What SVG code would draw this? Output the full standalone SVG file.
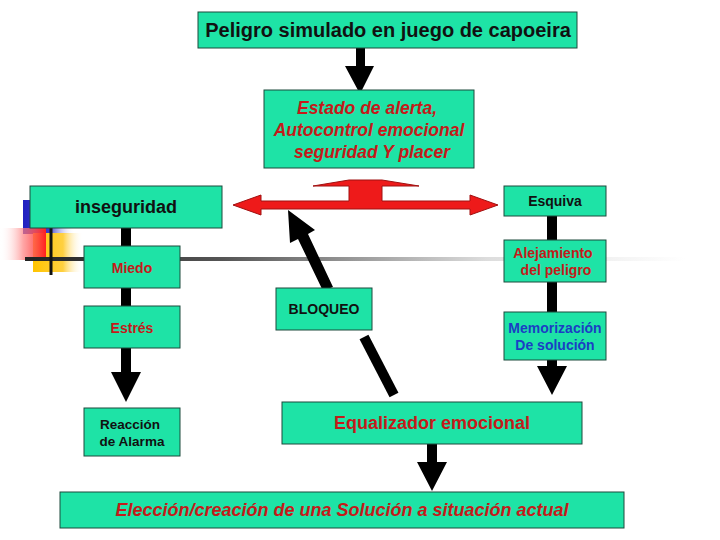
<svg xmlns="http://www.w3.org/2000/svg" width="720" height="540" viewBox="0 0 720 540">
<defs>
<style>
.box{fill:#1ee3a6;stroke:#1d4a3c;stroke-width:1}
.t{font-family:"Liberation Sans",Arial,sans-serif;font-weight:bold;text-anchor:middle}
.blk{fill:#111}
.red{fill:#c41a1a}
.blue{fill:#1b3ec4}
.it{font-style:italic}
.arr{fill:#000}
</style>
<linearGradient id="lineG" x1="0" y1="0" x2="1" y2="0">
<stop offset="0" stop-color="#222"/>
<stop offset="0.3" stop-color="#555"/>
<stop offset="0.7" stop-color="#ddd"/>
<stop offset="1" stop-color="#fff"/>
</linearGradient>
<linearGradient id="yelG" x1="0" y1="0" x2="1" y2="0">
<stop offset="0" stop-color="#ffc400"/>
<stop offset="0.6" stop-color="#ffd040"/>
<stop offset="1" stop-color="#fff" stop-opacity="0"/>
</linearGradient>
<linearGradient id="blueG" x1="0" y1="0" x2="1" y2="0">
<stop offset="0" stop-color="#2020c0"/>
<stop offset="0.5" stop-color="#3c3cc8"/>
<stop offset="1" stop-color="#fff" stop-opacity="0"/>
</linearGradient>
<linearGradient id="redG" x1="1" y1="0" x2="0" y2="0">
<stop offset="0" stop-color="#ff2020"/>
<stop offset="0.5" stop-color="#ff8080" stop-opacity="0.7"/>
<stop offset="1" stop-color="#fff" stop-opacity="0"/>
</linearGradient>
</defs>
<rect width="720" height="540" fill="#fff"/>
<g id="decor">
<rect x="23" y="200" width="52" height="34" fill="url(#blueG)"/>
<rect x="33" y="233" width="50" height="39" fill="url(#yelG)"/>
<rect x="0" y="228" width="46" height="32" fill="url(#redG)"/>
<rect x="25" y="257" width="660" height="4" fill="url(#lineG)"/>
<rect x="49.5" y="228" width="3" height="47" fill="#111"/>
</g>
<g id="connectors">
<polygon class="arr" points="356,48 365,48 365,66 374,66 360,94 345,66 356,66"/>
<polygon points="233,205 261,195 261,201 349,201 349,186 313,186 349,180 382,180 419,186 382,186 382,201 470,201 470,195 498,205 470,215 470,209 261,209 261,215" fill="#ee1a1a" stroke="#a01010" stroke-width="1"/>
<rect class="arr" x="121" y="228" width="10" height="18"/>
<rect class="arr" x="121" y="288" width="10" height="18"/>
<polygon class="arr" points="121,348 131,348 131,372 141,372 126,402 111,372 121,372"/>
<rect class="arr" x="547" y="216" width="10" height="25"/>
<rect class="arr" x="547" y="282" width="10" height="30"/>
<polygon class="arr" points="547,360 557,360 557,366 567,366 552,395 537,366 547,366"/>
<polygon class="arr" points="288,210 315,230 308,234 333,287 323,291 298,239 290,243"/>
<line x1="364" y1="337" x2="394" y2="395" stroke="#000" stroke-width="10"/>
<polygon class="arr" points="427,444 437,444 437,462 447,462 432,491 417,462 427,462"/>
</g>
<g id="n-peligro">
<rect class="box" x="198" y="12" width="379" height="36"/>
<text class="t blk" x="388" y="37" font-size="20">Peligro simulado en juego de capoeira</text>
</g>
<g id="n-estado">
<rect class="box" x="264" y="90" width="210" height="78"/>
<text class="t red it" font-size="17.5"><tspan x="367" y="114">Estado de alerta,</tspan><tspan x="369" y="136">Autocontrol emocional</tspan><tspan x="372" y="158">seguridad Y placer</tspan></text>
</g>
<g id="n-inseguridad">
<rect class="box" x="30" y="186" width="192" height="42"/>
<text class="t blk" x="126" y="213" font-size="18">inseguridad</text>
</g>
<g id="n-miedo">
<rect class="box" x="84" y="246" width="96" height="42"/>
<text class="t red" x="132" y="273" font-size="14">Miedo</text>
</g>
<g id="n-estres">
<rect class="box" x="84" y="306" width="96" height="42"/>
<text class="t red" x="132" y="333" font-size="14">Estrés</text>
</g>
<g id="n-reaccion">
<rect class="box" x="84" y="408" width="96" height="48"/>
<text class="t blk" font-size="13.5"><tspan x="130" y="429">Reacción</tspan><tspan x="132" y="446">de Alarma</tspan></text>
</g>
<g id="n-bloqueo">
<rect class="box" x="276" y="288" width="96" height="42"/>
<text class="t blk" x="324" y="314" font-size="14">BLOQUEO</text>
</g>
<g id="n-esquiva">
<rect class="box" x="504" y="186" width="102" height="30"/>
<text class="t blk" x="555" y="206" font-size="14">Esquiva</text>
</g>
<g id="n-alejamiento">
<rect class="box" x="504" y="240" width="102" height="42"/>
<text class="t red" font-size="14"><tspan x="553" y="258">Alejamiento</tspan><tspan x="556" y="275">del peligro</tspan></text>
</g>
<g id="n-memorizacion">
<rect class="box" x="504" y="312" width="102" height="48"/>
<text class="t blue" font-size="14"><tspan x="555" y="333">Memorización</tspan><tspan x="555" y="350">De solución</tspan></text>
</g>
<g id="n-equalizador">
<rect class="box" x="282" y="402" width="300" height="42"/>
<text class="t red" x="432" y="429" font-size="18">Equalizador emocional</text>
</g>
<g id="n-eleccion">
<rect class="box" x="60" y="492" width="564" height="36"/>
<text class="t red it" x="342" y="516" font-size="18">Elección/creación de una Solución a situación actual</text>
</g>
</svg>
